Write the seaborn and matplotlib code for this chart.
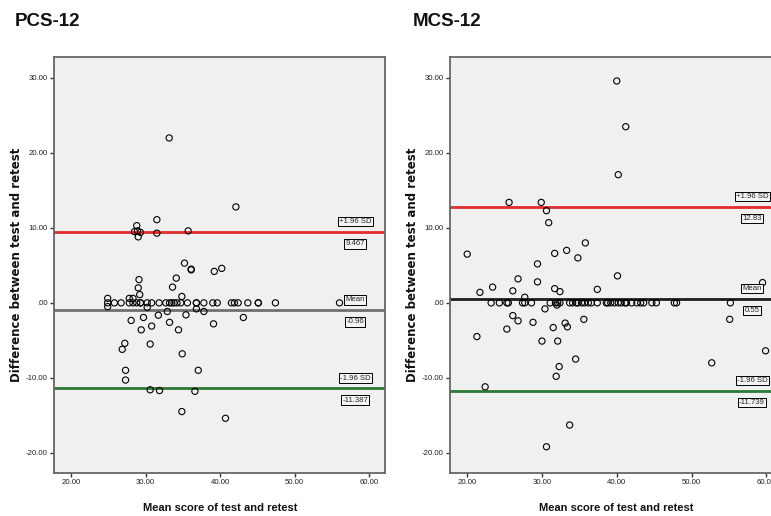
import matplotlib
matplotlib.use("Agg")
import matplotlib.pyplot as plt
import seaborn as sns


# PCS-12: mean of test/retest vs difference
pcs_mean = [
    33.15, 42.1, 31.5, 28.8, 28.5, 28.9, 29.3, 29.0, 31.5, 35.7, 35.2, 36.1, 36.1,
    39.2, 40.2, 34.1, 33.6, 29.1, 29.0, 29.2, 34.85, 24.9, 27.8, 28.3,
    24.9, 25.8, 26.7, 27.8, 28.3, 28.8, 29.3, 29.3, 30.2, 30.8, 31.8, 32.7, 33.2,
    33.5, 33.8, 34.2, 34.7, 35.6, 36.8, 36.8, 37.8, 39.0, 39.6, 41.5, 41.9, 42.4,
    43.7, 45.1, 45.1, 47.4, 56.0,
    24.9, 30.2, 32.9, 36.8, 37.8, 31.7, 35.4, 28.05, 29.7, 30.8, 29.4, 33.2, 34.4,
    39.1, 43.1, 27.2, 26.85, 30.6, 34.9, 27.3, 37.05, 27.3, 30.6, 31.85, 36.6,
    34.85, 40.7,
]
pcs_diff = [
    22.0, 12.8, 11.1, 10.3, 9.5, 9.6, 9.4, 8.8, 9.3, 9.6, 5.3, 4.5, 4.4,
    4.2, 4.6, 3.3, 2.1, 3.1, 2.0, 1.1, 0.85, 0.6, 0.6, 0.6,
    0, 0, 0, 0, 0, 0, 0, 0, 0, 0, 0, 0, 0,
    0, 0, 0, 0, 0, 0, 0, 0, 0, 0, 0, 0, 0,
    0, 0, 0, 0, 0,
    -0.5, -0.6, -1.15, -0.8, -1.15, -1.65, -1.6, -2.35, -1.95, -3.1, -3.6, -2.6, -3.6,
    -2.8, -1.95, -5.4, -6.2, -5.5, -6.8, -9.0, -9.0, -10.3, -11.6, -11.7, -11.8,
    -14.5, -15.4,
]
pcs_limits = [9.467, -0.96, -11.387]
pcs_labels = ["9.467", "-0.96", "-11.387"]

# MCS-12
mcs_mean = [
    40.0, 41.2, 40.2, 25.6, 29.9, 30.6, 30.9, 20.0, 35.8, 33.3, 31.7, 34.8, 29.4,
    29.4, 26.8, 40.1, 23.4, 26.1, 21.7, 31.7, 32.4, 37.4, 27.7, 59.5,
    23.2, 24.3, 25.3, 25.5, 27.4, 27.7, 28.6, 31.1, 31.8, 32.1, 32.4, 33.7, 34.1,
    34.6, 34.8, 35.3, 35.7, 36.2, 36.6, 37.4, 38.6, 38.8, 39.2, 39.7, 40.2, 40.6,
    41.1, 41.3, 42.0, 42.7, 43.2, 43.6, 44.7, 45.3, 47.7, 48.0, 55.2,
    30.4, 32.0, 26.1, 26.8, 28.8, 25.3, 31.5, 33.1, 33.4, 35.6, 21.3, 30.0, 32.1,
    34.5, 32.3, 31.9, 22.4, 33.7, 30.6, 52.7, 55.1, 59.9,
]
mcs_diff = [
    29.6, 23.5, 17.1, 13.4, 13.4, 12.3, 10.7, 6.5, 8.0, 7.0, 6.6, 6.0, 5.2,
    2.8, 3.2, 3.6, 2.1, 1.6, 1.4, 1.9, 1.5, 1.8, 0.75, 2.7,
    0, 0, 0, 0, 0, 0, 0, 0, 0, 0, 0, 0, 0,
    0, 0, 0, 0, 0, 0, 0, 0, 0, 0, 0, 0, 0,
    0, 0, 0, 0, 0, 0, 0, 0, 0, 0, 0,
    -0.8, -0.3, -1.7, -2.4, -2.6, -3.5, -3.3, -2.7, -3.2, -2.2, -4.5, -5.1, -5.1,
    -7.5, -8.5, -9.8, -11.2, -16.3, -19.2, -8.0, -2.2, -6.4,
]
mcs_limits = [12.83, 0.55, -11.739]
mcs_labels = ["12.83", "0.55", "-11.739"]

limit_names = ["+1.96 SD", "Mean", "-1.96 SD"]
x_ticks = [20, 30, 40, 50, 60]
x_ticklabels = ["20.00", "30.00", "40.00", "50.00", "60.00"]
y_ticks = [-20, -10, 0, 10, 20, 30]
y_ticklabels = ["-20.00", "-10.00", ".00", "10.00", "20.00", "30.00"]

sns.set_theme(style="ticks")
plt.rcParams["font.family"] = ["Liberation Sans", "DejaVu Sans"]


def draw_panel(ax, xs, ys, limits, value_labels, mean_color):
    ax.set_facecolor("#f0f0f0")
    sns.scatterplot(x=xs, y=ys, ax=ax, marker="o", s=20, facecolor="none",
                    edgecolor="black", linewidth=0.8, zorder=3)
    colors = ["#e32b2b", mean_color, "#2b7a34"]
    box = dict(boxstyle="square,pad=0.15", facecolor="#f4f4f4", edgecolor="black", linewidth=0.7)
    for val, col, name, vlab in zip(limits, colors, limit_names, value_labels):
        ax.axhline(val, color=col, linewidth=2.0, zorder=2)
        # SPSS puts the line name above and its value below, near the right edge
        ax.annotate(name, xy=(58.1, val), xytext=(0, 7.3), textcoords="offset points",
                    ha="center", va="center", fontsize=5.6, bbox=box, zorder=4)
        ax.annotate(vlab, xy=(58.1, val), xytext=(0, -8.6), textcoords="offset points",
                    ha="center", va="center", fontsize=5.6, bbox=box, zorder=4)
    ax.set_xlim(17.7, 62.1)
    ax.set_ylim(-22.7, 32.8)
    ax.set_xticks(x_ticks)
    ax.set_xticklabels(x_ticklabels)
    ax.set_yticks(y_ticks)
    ax.set_yticklabels(y_ticklabels)
    ax.tick_params(axis="both", direction="out", length=3, width=1.0, color="#333333",
                   labelsize=5.6, pad=1.5, labelcolor="#222222")
    for sp in ax.spines.values():
        sp.set_visible(True)
        sp.set_color("#666666")
        sp.set_linewidth(1.3)
    ax.set_xlabel("")
    ax.set_ylabel("")


fig = plt.figure(figsize=(7.71, 5.16), dpi=100)
fig.patch.set_facecolor("white")
ax1 = fig.add_axes([54 / 771, 1 - 473 / 516, 331 / 771, 416 / 516])
ax2 = fig.add_axes([450 / 771, 1 - 473 / 516, 332 / 771, 416 / 516])

draw_panel(ax1, pcs_mean, pcs_diff, pcs_limits, pcs_labels, "#707070")
draw_panel(ax2, mcs_mean, mcs_diff, mcs_limits, mcs_labels, "#1e1e1e")

for x0, title in [(15, "PCS-12"), (413, "MCS-12")]:
    fig.text(x0 / 771, 1 - 21 / 516, title, ha="left", va="center",
             fontsize=13.5, fontweight="bold", color="#111111")
for xc in [17, 413]:
    fig.text(xc / 771, 1 - 265 / 516, "Difference between test and retest", rotation=90,
             ha="center", va="center", fontsize=8.5, fontweight="bold",
             family=["DejaVu Sans"], color="#111111")
for xc in [220, 616]:
    fig.text(xc / 771, 1 - 508 / 516, "Mean score of test and retest", ha="center",
             va="center", fontsize=8, fontweight="bold", color="#111111")

fig.savefig("out.png", dpi=100)
